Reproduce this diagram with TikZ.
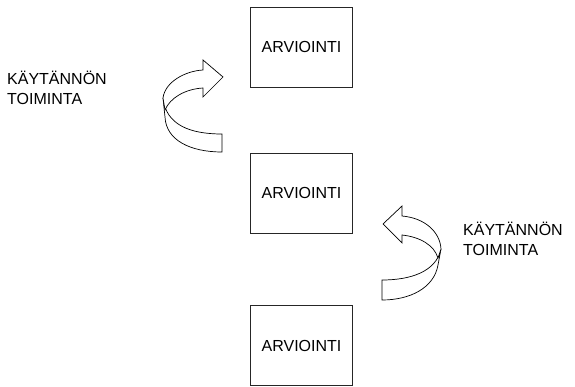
\documentclass[tikz,border=0pt]{standalone}
\usepackage{fontspec}
\setmainfont{Liberation Sans}
\begin{document}
\begin{tikzpicture}[x=1pt,y=-1pt,
  box/.style={draw=black!85, line width=0.8pt, minimum width=102pt, minimum height=80pt,
    inner sep=0pt, font=\fontsize{16}{19}\selectfont},
  note/.style={align=left, anchor=north west, inner sep=0pt, font=\fontsize{16}{20}\selectfont},
  ribbon/.style={draw=black, fill=white, line width=0.7pt, line join=miter}]
\useasboundingbox (0,0) rectangle (575,387);

% assessment boxes
\node[box] (a1) at (301.5,47) {ARVIOINTI};
\node[box] (a2) at (301.5,193) {ARVIOINTI};
\node[box] (a3) at (301.5,345.5) {ARVIOINTI};

% labels
\node[note] (t1) at (7,71) {KÄYTÄNNÖN\\TOIMINTA};
\node[note] (t2) at (463,222) {KÄYTÄNNÖN\\TOIMINTA};

% upper curled arrow: back band, then front band with head
\draw[ribbon] (163,98) .. controls (166,125) and (190,134) .. (222,134)
  -- (222,152) .. controls (190,152) and (166,140) .. (165,117) -- cycle;
\draw[ribbon] (163,98) .. controls (165,82) and (185,71) .. (203,70)
  -- (203,60) -- (223,77) -- (203,97) -- (203,88)
  .. controls (185,89) and (170,98) .. (165,110) -- cycle;

% lower curled arrow
\draw[ribbon] (441,249) .. controls (436,272) and (410,280) .. (382,280)
  -- (382,300) .. controls (410,300) and (434,288) .. (438,265) -- cycle;
\draw[ribbon] (441,249) .. controls (440,232) and (425,218) .. (402,216)
  -- (402,206) -- (383,224) -- (402,243) -- (402,235)
  .. controls (420,237) and (434,245) .. (438,258) -- cycle;
\end{tikzpicture}
\end{document}
